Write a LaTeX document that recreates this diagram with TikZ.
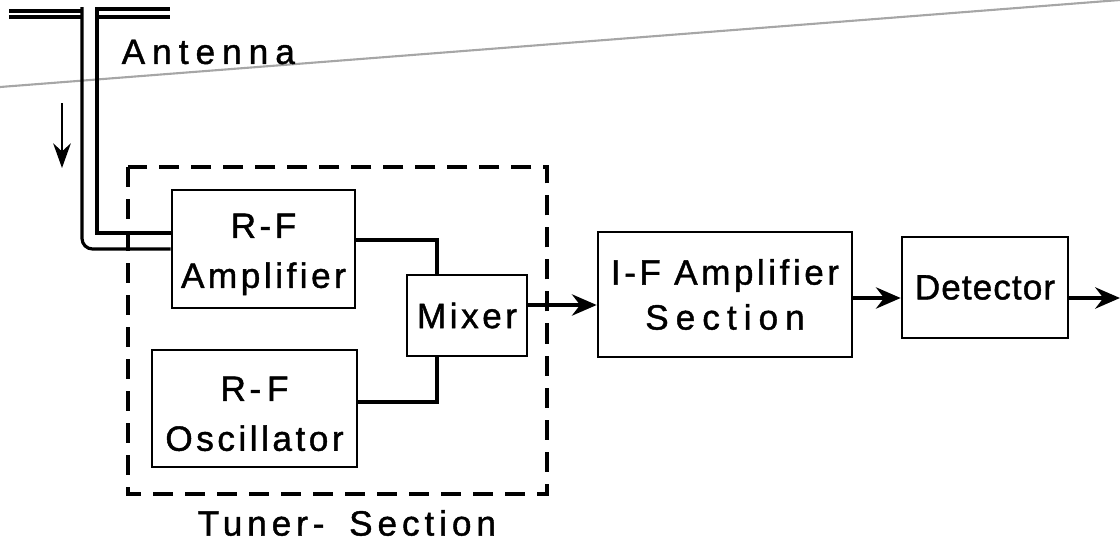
\documentclass[tikz,border=0pt]{standalone}
\usepackage{fontspec}
\setmainfont{Liberation Sans}
\newfontfamily\lab[LetterSpace=10,FakeBold=1.2]{Liberation Sans}
\newfontfamily\labw[LetterSpace=20,FakeBold=1.2]{Liberation Sans}
\newfontfamily\labm[LetterSpace=14,FakeBold=1.2]{Liberation Sans}
\newfontfamily\labt[LetterSpace=3,FakeBold=1.2]{Liberation Sans}
\usetikzlibrary{arrows.meta}
\begin{document}
\begin{tikzpicture}[x=0.01cm,y=-0.01cm,
  blk/.style={draw,line width=0.7pt,inner sep=0pt,align=center,font=\lab\fontsize{10}{14.2}\selectfont},
  wire/.style={line width=1.2pt},
  arr/.style={line width=1.2pt,-{Stealth[length=7pt,width=6pt]}},
  ant/.style={line width=0.9pt},
  lbl/.style={inner sep=0pt,font=\labw\fontsize{10}{13}\selectfont}]
\useasboundingbox (0,0) rectangle (1120,542);
% scan line
\draw[gray!70,line width=0.6pt] (0,87) -- (1120,0);
% blocks
\node[blk,minimum width=1.83cm,minimum height=1.18cm] (amp) at (263.5,249) {\strut R-F\\Amplifier};
\node[blk,minimum width=1.20cm,minimum height=0.81cm] (mix) at (467,315.5) {Mixer};
\node[blk,minimum width=2.05cm,minimum height=1.17cm] (osc) at (254.5,408.5) {\strut R-\,F\\Oscillator};
\node[blk,minimum width=2.54cm,minimum height=1.25cm,font=\lab\fontsize{10}{12.8}\selectfont] (if) at (725,294.5) {I-F Amplifier\\{\labw Section}};
\node[blk,minimum width=1.66cm,minimum height=1.01cm,font=\labt\fontsize{10}{13}\selectfont] (det) at (985,287.5) {Detector};
% tuner dashed box
\draw[line width=1.1pt,dash pattern=on 0.2cm off 0.12cm] (128,167) rectangle (547,494);
\node[lbl,anchor=west,font=\labm\fontsize{10}{13}\selectfont] (tun) at (197,523) {Tuner-\hspace{7pt}Section};
% antenna
\node[lbl,anchor=west] (antl) at (121,52) {Antenna};
\coordinate (a1) at (82,7);
\coordinate (a2) at (97,7);
\draw[ant] (9,11) -- (82,11);
\draw[ant] (9,17) -- (82,17);
\draw[ant] (97,9) -- (170,9);
\draw[ant] (97,17) -- (170,17);
\draw[ant,rounded corners=3pt] (a1) -- (82,249) -- (amp.west |- 0,249);
\draw[ant] (a2) -- (97,233) -- (amp.west |- 0,233);
\coordinate (s1) at (62,103);
\coordinate (s2) at (62,168);
\draw[line width=0.7pt,-{Stealth[length=7pt,width=5pt]}] (s1) -- (s2);
% connections
\draw[wire] (amp.east |- 0,240) -| (mix.north -| 437,0);
\draw[wire] (osc.east |- 0,402) -| (mix.south -| 437,0);
\draw[arr] (mix.east |- 0,305) -- (if.west |- 0,305);
\draw[arr] (if.east |- 0,298) -- (det.west |- 0,298);
\coordinate (out) at (1120,298);
\draw[arr] (det.east |- 0,298) -- (out);
\end{tikzpicture}
\end{document}
